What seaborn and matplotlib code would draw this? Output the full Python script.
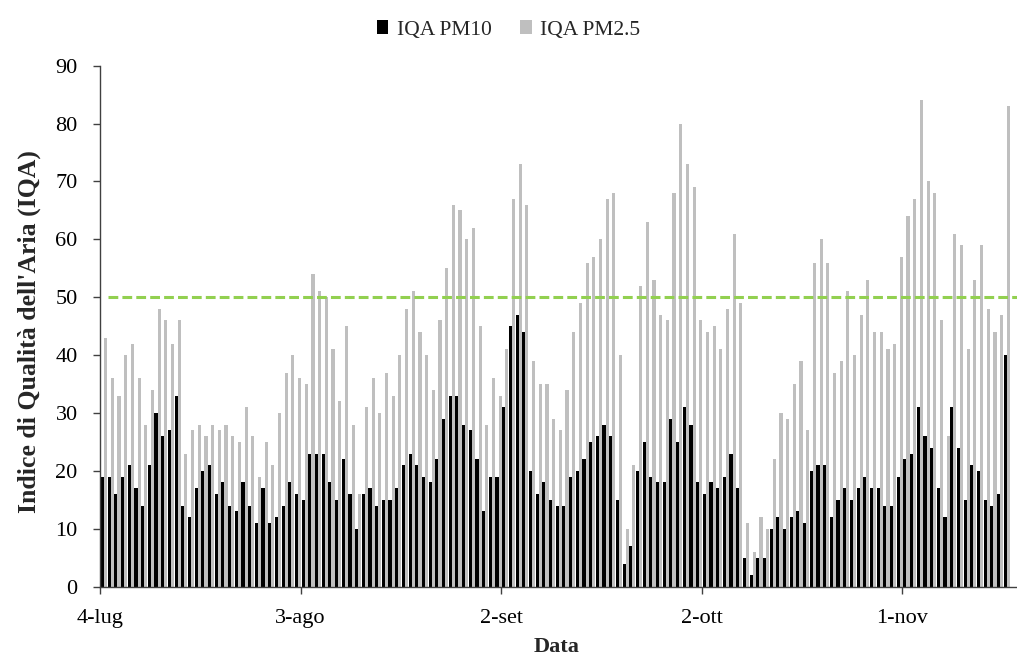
import matplotlib
matplotlib.use('Agg')
import matplotlib.pyplot as plt
import seaborn as sns
import pandas as pd
import numpy as np

# valori giornalieri (4 luglio - 16 novembre)
pm10 = [19, 19, 16, 19, 21, 17, 14, 21, 30, 26, 27, 33, 14, 12, 17, 20, 21, 16, 18, 14, 13, 18, 14,
        11, 17, 11, 12, 14, 18, 16, 15, 23, 23, 23, 18, 15, 22, 16, 10, 16, 17, 14, 15, 15, 17, 21,
        23, 21, 19, 18, 22, 29, 33, 33, 28, 27, 22, 13, 19, 19, 31, 45, 47, 44, 20, 16, 18, 15, 14,
        14, 19, 20, 22, 25, 26, 28, 26, 15, 4, 7, 20, 25, 19, 18, 18, 29, 25, 31, 28, 18, 16, 18,
        17, 19, 23, 17, 5, 2, 5, 5, 10, 12, 10, 12, 13, 11, 20, 21, 21, 12, 15, 17, 15, 17, 19,
        17, 17, 14, 14, 19, 22, 23, 31, 26, 24, 17, 12, 31, 24, 15, 21, 20, 15, 14, 16, 40]

pm25 = [43, 36, 33, 40, 42, 36, 28, 34, 48, 46, 42, 46, 23, 27, 28, 26, 28, 27, 28, 26, 25, 31, 26,
        19, 25, 21, 30, 37, 40, 36, 35, 54, 51, 50, 41, 32, 45, 28, 16, 31, 36, 30, 37, 33, 40, 48,
        51, 44, 40, 34, 46, 55, 66, 65, 60, 62, 45, 28, 36, 33, 41, 67, 73, 66, 39, 35, 35, 29, 27,
        34, 44, 49, 56, 57, 60, 67, 68, 40, 10, 21, 52, 63, 53, 47, 46, 68, 80, 73, 69, 46, 44, 45,
        41, 48, 61, 49, 11, 6, 12, 10, 22, 30, 29, 35, 39, 27, 56, 60, 56, 37, 39, 51, 40, 47, 53,
        44, 44, 41, 42, 57, 64, 67, 84, 70, 68, 46, 26, 61, 59, 41, 53, 59, 48, 44, 47, 83]

tick_labels = ['4-lug', '3-ago', '2-set', '2-ott', '1-nov']
tick_step = 30
soglia = 50

sns.set_theme(style='white')
plt.rcParams['font.family'] = ['Liberation Serif', 'DejaVu Serif']

days = np.arange(len(pm10))
df = pd.DataFrame({'giorno': np.concatenate([days, days]),
                   'IQA': pm10 + pm25,
                   'serie': ['IQA PM10'] * len(pm10) + ['IQA PM2.5'] * len(pm25)})

fig = plt.figure(figsize=(10.17, 6.63), dpi=100)
ax = fig.add_axes([0.0983, 0.1151, 0.9017, 0.7858])

sns.barplot(data=df, x='giorno', y='IQA', hue='serie', palette=['#000000', '#BFBFBF'],
            width=0.94, gap=0, linewidth=0, saturation=1, errorbar=None, ax=ax)

# linea della soglia
ax.axhline(soglia, xmin=0.009, xmax=1, color='#92D050', linewidth=2.2, dashes=(3.2, 1.35))

shift = 0.62
ax.set_xlim(-shift, 137.15 - shift)
ax.set_ylim(0, 90)
ax.set_yticks(range(0, 91, 10))
ax.set_xticks([i * tick_step - shift for i in range(len(tick_labels))])
ax.set_xticklabels(tick_labels)

sns.despine(ax=ax)
for s in ['left', 'bottom']:
    ax.spines[s].set_color('#404040')
    ax.spines[s].set_linewidth(1)
ax.tick_params(axis='both', which='major', bottom=True, left=True, direction='out',
               length=5, width=1, color='#404040', labelsize=16, labelcolor='#000000')
ax.tick_params(axis='y', pad=11)
ax.tick_params(axis='x', pad=11)

ax.set_ylabel("Indice di Qualità dell'Aria (IQA)", fontsize=18.5, fontweight='bold')
ax.yaxis.set_label_coords(-0.064, 0.49)
ax.set_xlabel('Data', fontsize=16, fontweight='bold', va='top')
ax.xaxis.set_label_coords(0.498, -0.097)

handles, labels = ax.get_legend_handles_labels()
ax.legend_.remove()
fig.legend(handles, labels, loc='center', bbox_to_anchor=(0.5, 0.955), ncol=2, frameon=False,
           fontsize=15.5, handlelength=0.55, handleheight=0.65, handletextpad=0.4, columnspacing=1.3)

plt.savefig('out.png', dpi=100)
